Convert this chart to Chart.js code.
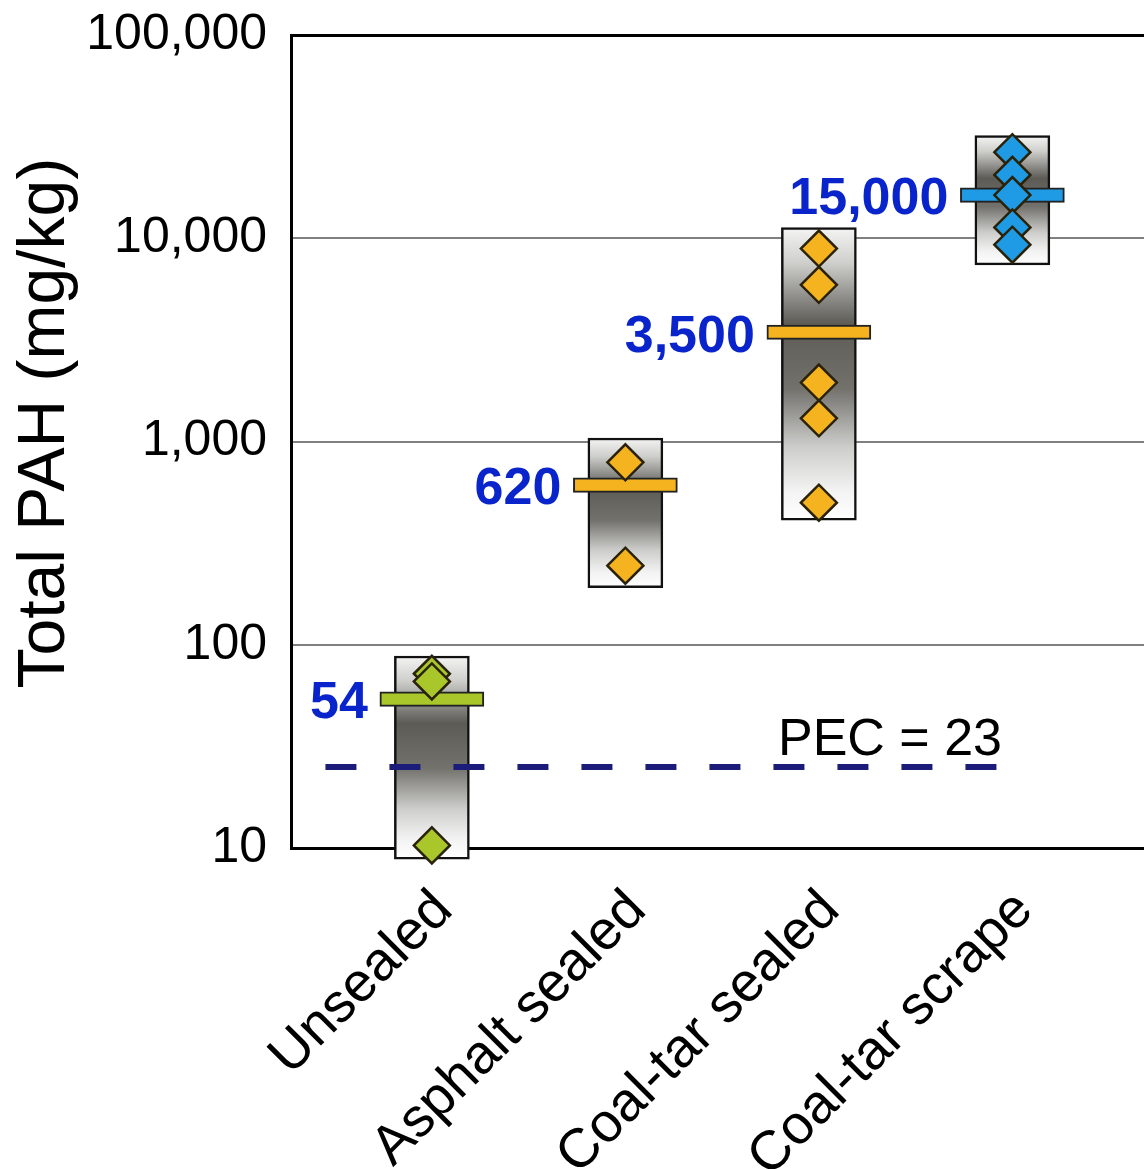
<!DOCTYPE html>
<html>
<head>
<meta charset="utf-8">
<script src="https://cdn.jsdelivr.net/npm/chart.js@4.4.1/dist/chart.umd.min.js"></script>
<style>
  html, body { margin: 0; padding: 0; background: #fff; overflow: hidden; }
  #wrap { width: 1144px; height: 1169px; overflow: hidden; }
</style>
</head>
<body>
<div id="wrap"><canvas id="pah" width="1190" height="1169"></canvas></div>
<script>
// values (mg/kg)
const categories = ['Unsealed', 'Asphalt sealed', 'Coal-tar sealed', 'Coal-tar scrape'];
const boxLow = [8.8, 191, 410, 7400];
const boxHigh = [88, 1040, 11300, 32000];
const means = [54, 610, 3450, 16300];
const meanLabels = ['54', '620', '3,500', '15,000'];
const unsealedPts = [72, 66, 10.3];
const asphaltPts = [790, 245];
const coalTarSealedPts = [8900, 5900, 1950, 1300, 500];
const coalTarScrapePts = [26500, 20500, 16300, 11300, 9300];
const yTicks = [10, 100, 1000, 10000, 100000];
const pecValue = 25;
const pecLabel = 'PEC = 23';

const colors = ['#a9c62b', '#f5b41f', '#f5b41f', '#1f9be6'];
const FONT = "'Liberation Sans', Arial, sans-serif";
const samples = [unsealedPts, asphaltPts, coalTarSealedPts, coalTarScrapePts];

const points = [];
const pointColors = [];
samples.forEach((arr, i) => {
    arr.forEach(v => {
        points.push({ x: i + 1, y: v });
        pointColors.push(colors[i]);
    });
});

// half height of the mean bar, as a ratio on the log axis
const barRatio = 1.085;

function boxFill(c) {
    const chart = c.chart;
    if (!chart.chartArea || c.type !== 'data') return '#888';
    const ys = chart.scales.y;
    const top = ys.getPixelForValue(boxHigh[c.dataIndex]);
    const bot = ys.getPixelForValue(boxLow[c.dataIndex]);
    const g = chart.ctx.createLinearGradient(0, top, 0, bot);
    g.addColorStop(0, '#f4f4f4');
    g.addColorStop(0.12, '#cfcfcc');
    g.addColorStop(0.33, '#5c5b56');
    g.addColorStop(0.55, '#72716c');
    g.addColorStop(0.75, '#cdcdcb');
    g.addColorStop(0.9, '#f3f3f3');
    g.addColorStop(1, '#ffffff');
    return g;
}

const extras = {
    id: 'extras',
    afterDatasetsDraw(chart) {
        const ctx = chart.ctx;
        const xs = chart.scales.x, ys = chart.scales.y;
        ctx.save();
        ctx.fillStyle = '#0a24cc';
        ctx.font = 'bold 52px ' + FONT;
        ctx.textAlign = 'right';
        ctx.textBaseline = 'middle';
        means.forEach((m, i) => {
            ctx.fillText(meanLabels[i], xs.getPixelForValue(i + 1) - 64, ys.getPixelForValue(m) + 5);
        });
        ctx.fillStyle = '#000';
        ctx.font = '52px ' + FONT;
        ctx.textAlign = 'left';
        ctx.textBaseline = 'alphabetic';
        ctx.fillText(pecLabel, 778, ys.getPixelForValue(pecValue) - 12);
        ctx.restore();
    }
};

const ctx = document.getElementById('pah').getContext('2d');
const chart = new Chart(ctx, {
    data: {
        datasets: [
            {
                type: 'bar',
                data: categories.map((c, i) => ({ x: i + 1, y: [boxLow[i], boxHigh[i]] })),
                backgroundColor: boxFill,
                borderColor: '#111',
                borderWidth: 2.5,
                borderSkipped: false,
                barThickness: 75,
                grouped: false,
                clip: false,
                order: 5
            },
            {
                type: 'line',
                data: [{ x: 0.45, y: pecValue }, { x: 3.98, y: pecValue }],
                borderColor: '#1c1c7a',
                borderWidth: 6,
                borderDash: [31, 33],
                pointRadius: 0,
                order: 4
            },
            {
                type: 'bar',
                data: means.map((m, i) => ({ x: i + 1, y: [m / barRatio, m * barRatio] })),
                backgroundColor: colors,
                borderColor: '#222',
                borderWidth: 2,
                borderSkipped: false,
                barThickness: 104,
                grouped: false,
                order: 3
            },
            {
                type: 'scatter',
                data: points,
                pointStyle: 'rectRot',
                pointRadius: 18,
                backgroundColor: pointColors,
                borderColor: '#2a2208',
                borderWidth: 2.5,
                clip: false,
                order: 1
            }
        ]
    },
    options: {
        responsive: false,
        animation: false,
        layout: { padding: { top: 35, left: 0, right: 0, bottom: 0 } },
        plugins: { legend: { display: false }, tooltip: { enabled: false } },
        scales: {
            x: {
                type: 'linear',
                offset: false,
                min: 0.272,
                max: 4.812,
                afterFit: s => {
                    s.height = 1169 - 848;
                    s.paddingLeft = 0;
                    s.paddingRight = 0;
                },
                afterBuildTicks: s => { s.ticks = categories.map((c, i) => ({ value: i + 1 })); },
                grid: { display: false, drawTicks: false, offset: false },
                border: { display: true, color: '#000', width: 3 },
                ticks: {
                    autoSkip: false,
                    minRotation: 45,
                    maxRotation: 45,
                    padding: 30,
                    labelOffset: 12,
                    color: '#000',
                    font: { family: FONT, size: 55 },
                    callback: v => categories[v - 1] || ''
                }
            },
            y: {
                type: 'logarithmic',
                min: 10,
                max: 100000,
                afterFit: s => {
                    s.width = 291;
                    s.paddingTop = 0;
                    s.paddingBottom = 0;
                },
                afterBuildTicks: s => { s.ticks = yTicks.map(v => ({ value: v })); },
                grid: {
                    drawTicks: false,
                    color: c => (c.tick && c.tick.value === 100000) ? '#000' : '#808080',
                    lineWidth: c => (c.tick && c.tick.value === 100000) ? 3 : 2
                },
                border: { display: true, color: '#000', width: 3 },
                ticks: {
                    padding: 24,
                    color: '#000',
                    font: { family: FONT, size: 50 },
                    callback: v => Number(v).toLocaleString('en-US')
                },
                title: {
                    display: true,
                    text: '  Total PAH (mg/kg)',
                    color: '#000',
                    font: { family: FONT, size: 66 },
                    padding: { top: 6, bottom: 0 }
                }
            }
        }
    },
    plugins: [extras]
});
</script>
</body>
</html>
